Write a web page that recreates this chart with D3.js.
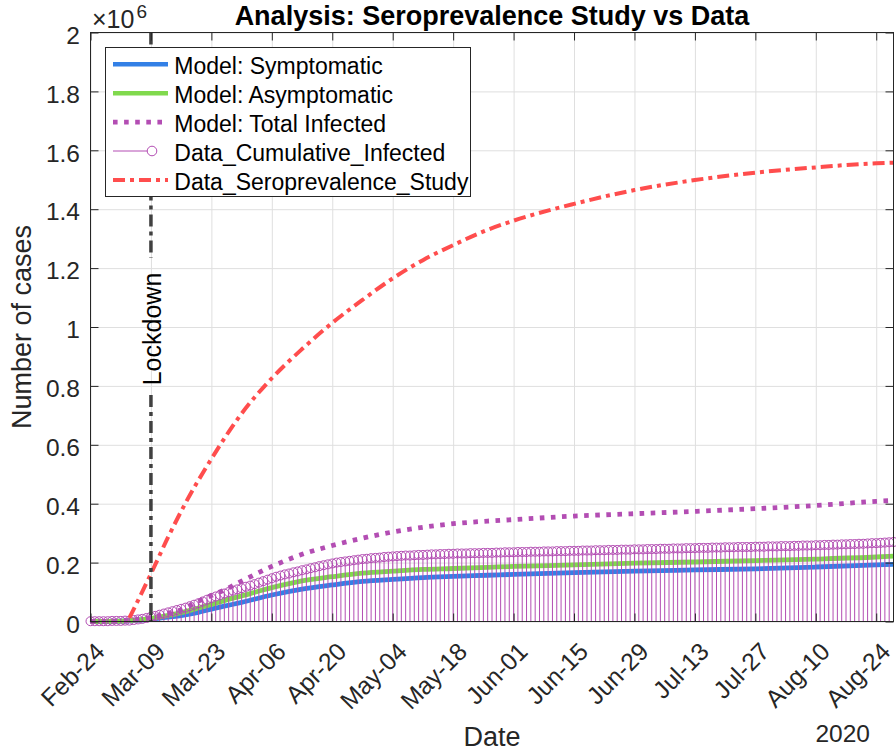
<!DOCTYPE html>
<html><head><meta charset="utf-8">
<script src="https://cdn.jsdelivr.net/npm/d3@7"></script>
<style>
body{margin:0;background:#fff}
svg{display:block}
text{font-family:"Liberation Sans",Arial,Helvetica,sans-serif}
</style>
</head><body>
<svg id="c" width="896" height="754"></svg>
<script>
// ---------------- data ----------------
const startDay = "2020-02-24";           // day 0
const endDayIndex = 186;                  // x-axis ends on Aug-28
const xTickDays = [0,14,28,42,56,70,84,98,112,126,140,154,168,182];
const yTickValues = [0,0.2,0.4,0.6,0.8,1,1.2,1.4,1.6,1.8,2]; // ×10^6
const lockdownDay = 14;

// model curves (millions of cases) sampled on these days
const modelDays    = [0,7,10,14,18,21,25,28,31,35,42,49,56,63,70,77,84,92,98,112,126,140,154,168,182,186];
const symptomatic  = [0,0.001,0.003,0.008,0.015,0.020,0.031,0.042,0.052,0.065,0.090,0.110,0.124,0.136,0.143,0.149,0.153,0.157,0.160,0.166,0.171,0.175,0.179,0.185,0.192,0.194];
const asymptomatic = [0,0.001,0.004,0.011,0.021,0.030,0.046,0.058,0.071,0.087,0.115,0.138,0.152,0.164,0.171,0.177,0.180,0.184,0.187,0.192,0.198,0.202,0.207,0.212,0.219,0.222];
const totalInfected= [0,0.002,0.006,0.014,0.028,0.040,0.069,0.088,0.107,0.137,0.187,0.228,0.258,0.283,0.304,0.320,0.332,0.341,0.346,0.358,0.366,0.374,0.383,0.394,0.408,0.411];

// seroprevalence study curve (millions)
const seroDays   = [9,14,18,22,28,35,42,49,56,63,70,77,84,92,98,112,126,140,154,168,182,186];
const seroValues = [0.012,0.162,0.287,0.402,0.552,0.706,0.826,0.925,1.014,1.092,1.165,1.227,1.278,1.330,1.361,1.418,1.465,1.499,1.524,1.542,1.556,1.558];

// daily cumulative infected data (thousands), day 0 .. 186
const cumulativeInfected = [
  1,1,1,1,1,2,2,2,3,3,
  5,7,9,12,16,19,23,27,31,35,
  39,43,47,52,57,62,68,74,80,85,
  90,95,100,105,109,113,118,122,127,132,
  137,142,147,152,156,160,163,167,170,174,
  177,181,184,188,191,194,197,200,202,204,
  206,208,210,212,213,215,216,217,219,220,
  221,222,223,224,224,225,226,226,227,228,
  228,229,229,230,230,231,231,231,232,232,
  232,233,233,233,234,234,235,235,235,236,
  236,236,237,237,237,238,238,238,239,239,
  239,240,240,240,241,241,241,242,242,242,
  243,243,243,244,244,244,245,245,245,246,
  246,246,247,247,247,248,248,248,249,249,
  249,250,250,250,251,251,251,252,252,252,
  253,253,253,253,254,254,254,255,255,255,
  256,256,256,257,257,258,258,258,259,259,
  260,260,261,261,262,262,263,263,264,264,
  265,266,266,267,268,269,270
];

const legendLabels = ["Model: Symptomatic","Model: Asymptomatic","Model: Total Infected","Data_Cumulative_Infected","Data_Seroprevalence_Study"];
const titleText = "Analysis: Seroprevalence Study vs Data";

// ---------------- styles ----------------
const C = {axis:"#262626", grid:"#dfdfdf", blue:"#3380e6", green:"#80d94d", purple:"#b34db3", red:"#ff4d4d", lock:"#404040"};
const L=90.5, R=893.5, T=32.5, B=621.5;

const svg = d3.select("#c");
const start = new Date(startDay + "T00:00:00Z");
const dayDate = d => new Date(+start + d*864e5);

const x = d3.scaleUtc().domain([start, dayDate(endDayIndex)]).range([L,R]);
const y = d3.scaleLinear().domain([0,2e6]).range([B,T]);
const xTicks = xTickDays.map(dayDate);
const yTicks = yTickValues.map(v=>v*1e6);

// grid
svg.append("g").attr("transform",`translate(0,${B})`)
  .call(d3.axisBottom(x).tickValues(xTicks).tickSize(-(B-T)).tickFormat(""))
  .call(g=>{g.select(".domain").remove(); g.selectAll("line").attr("stroke",C.grid);});
svg.append("g").attr("transform",`translate(${L},0)`)
  .call(d3.axisLeft(y).tickValues(yTicks).tickSize(-(R-L)).tickFormat(""))
  .call(g=>{g.select(".domain").remove(); g.selectAll("line").attr("stroke",C.grid);});

// model lines
const line = d3.line().x(d=>x(dayDate(d[0]))).y(d=>y(d[1]*1e6)).curve(d3.curveMonotoneX);
const zip = (a,b)=>a.map((v,i)=>[v,b[i]]);
svg.append("path").attr("d",line(zip(modelDays,symptomatic))).attr("fill","none").attr("stroke",C.blue).attr("stroke-width",4.8);
svg.append("path").attr("d",line(zip(modelDays,asymptomatic))).attr("fill","none").attr("stroke",C.green).attr("stroke-width",4.8);
svg.append("path").attr("d",line(zip(modelDays,totalInfected))).attr("fill","none").attr("stroke",C.purple).attr("stroke-width",4.8).attr("stroke-dasharray","4.6,6.5");

// stem data
const stems = svg.append("g");
cumulativeInfected.forEach((v,i)=>{
  const xx = x(dayDate(i));
  stems.append("line").attr("x1",xx).attr("x2",xx).attr("y1",y(0)).attr("y2",y(v*1000))
    .attr("stroke",C.purple).attr("stroke-width",1);
});
cumulativeInfected.forEach((v,i)=>{
  stems.append("circle").attr("cx",x(dayDate(i))).attr("cy",y(v*1000)).attr("r",4.5)
    .attr("fill","none").attr("stroke",C.purple).attr("stroke-width",1);
});

// seroprevalence
svg.append("path").attr("d",line(zip(seroDays,seroValues))).attr("fill","none").attr("stroke",C.red).attr("stroke-width",4).attr("stroke-dasharray","12,5,4,5");

// lockdown line with label
const xl = x(dayDate(lockdownDay));
svg.append("line").attr("x1",xl).attr("x2",xl).attr("y1",T).attr("y2",258).attr("stroke",C.lock).attr("stroke-width",3.5).attr("stroke-dasharray","12,5,4,5");
svg.append("line").attr("x1",xl).attr("x2",xl).attr("y1",395).attr("y2",B).attr("stroke",C.lock).attr("stroke-width",3.5).attr("stroke-dasharray","12,5,4,5");
svg.append("text").attr("transform",`translate(${xl+10.3},329) rotate(-90)`).attr("text-anchor","middle")
  .attr("font-size",25).attr("fill","#000").text("Lockdown");

// inner ticks and box
svg.append("g").attr("transform",`translate(${L},0)`).call(d3.axisLeft(y).tickValues(yTicks).tickSize(-8).tickFormat(""))
  .call(g=>{g.select(".domain").remove(); g.selectAll("line").attr("stroke",C.axis);});
svg.append("g").attr("transform",`translate(${R},0)`).call(d3.axisRight(y).tickValues(yTicks).tickSize(-8).tickFormat(""))
  .call(g=>{g.select(".domain").remove(); g.selectAll("line").attr("stroke",C.axis);});
svg.append("g").attr("transform",`translate(0,${B})`).call(d3.axisBottom(x).tickValues(xTicks).tickSize(-8).tickFormat(""))
  .call(g=>{g.select(".domain").remove(); g.selectAll("line").attr("stroke",C.axis);});
svg.append("g").attr("transform",`translate(0,${T})`).call(d3.axisTop(x).tickValues(xTicks).tickSize(-8).tickFormat(""))
  .call(g=>{g.select(".domain").remove(); g.selectAll("line").attr("stroke",C.axis);});
svg.append("rect").attr("x",L).attr("y",T).attr("width",R-L).attr("height",B-T).attr("fill","none").attr("stroke",C.axis).attr("stroke-width",1);

// tick labels
svg.append("g").attr("transform",`translate(${L},0)`)
  .call(d3.axisLeft(y).tickValues(yTicks).tickSize(0).tickPadding(10.5).tickFormat(v=>d3.format(".1~f")(v/1e6)))
  .call(g=>{g.select(".domain").remove(); g.selectAll("text").attr("font-size",24.5).attr("fill",C.axis).attr("dy","0.44em");});
svg.append("g").attr("transform",`translate(0,${B})`)
  .call(d3.axisBottom(x).tickValues(xTicks).tickSize(0).tickFormat(d3.utcFormat("%b-%d")))
  .call(g=>{g.select(".domain").remove();
    g.selectAll("text").attr("font-size",24.5).attr("fill",C.axis).attr("x",0).attr("y",0).attr("dy","0.9em")
      .attr("text-anchor","end").attr("transform","translate(-0.5,16) rotate(-45)");});

// exponent
svg.append("text").attr("x",92).attr("y",28.3).attr("font-size",25).attr("fill",C.axis).text("\u00d710");
svg.append("text").attr("x",136.5).attr("y",17.5).attr("font-size",19).attr("fill",C.axis).text("6");

// axis labels, title
svg.append("text").attr("x",(L+R)/2).attr("y",746).attr("text-anchor","middle").attr("font-size",27).attr("fill",C.axis).text("Date");
svg.append("text").attr("x",870).attr("y",741.7).attr("text-anchor","end").attr("font-size",24.5).attr("fill",C.axis).text("2020");
svg.append("text").attr("transform",`translate(31,${(T+B)/2}) rotate(-90)`).attr("text-anchor","middle").attr("font-size",27).attr("fill",C.axis).text("Number of cases");
svg.append("text").attr("x",(L+R)/2).attr("y",24.5).attr("text-anchor","middle").attr("font-size",27).attr("font-weight","bold").attr("fill","#000").text(titleText);

// legend
const lg = svg.append("g");
lg.append("rect").attr("x",105.5).attr("y",47.5).attr("width",365).attr("height",149).attr("fill","#fff").attr("stroke",C.axis).attr("stroke-width",1);
const rowY = i => 64.3 + i*28.9;
const sx1 = 113, sx2 = 168;
lg.append("line").attr("x1",sx1).attr("x2",sx2).attr("y1",rowY(0)).attr("y2",rowY(0)).attr("stroke",C.blue).attr("stroke-width",4.5);
lg.append("line").attr("x1",sx1).attr("x2",sx2).attr("y1",rowY(1)).attr("y2",rowY(1)).attr("stroke",C.green).attr("stroke-width",4.5);
lg.append("line").attr("x1",sx1).attr("x2",sx2).attr("y1",rowY(2)).attr("y2",rowY(2)).attr("stroke",C.purple).attr("stroke-width",4.8).attr("stroke-dasharray","4.6,6.5");
lg.append("line").attr("x1",sx1).attr("x2",147.2).attr("y1",rowY(3)).attr("y2",rowY(3)).attr("stroke",C.purple).attr("stroke-width",1);
lg.append("circle").attr("cx",152).attr("cy",rowY(3)).attr("r",4.8).attr("fill","none").attr("stroke",C.purple).attr("stroke-width",1);
lg.append("line").attr("x1",sx1).attr("x2",sx2).attr("y1",rowY(4)).attr("y2",rowY(4)).attr("stroke",C.red).attr("stroke-width",4).attr("stroke-dasharray","12,5,4,5");
legendLabels.forEach((t,i)=>{
  lg.append("text").attr("x",174.3).attr("y",rowY(i)+9.7).attr("font-size",23).attr("fill","#000").text(t);
});
</script>
</body></html>
